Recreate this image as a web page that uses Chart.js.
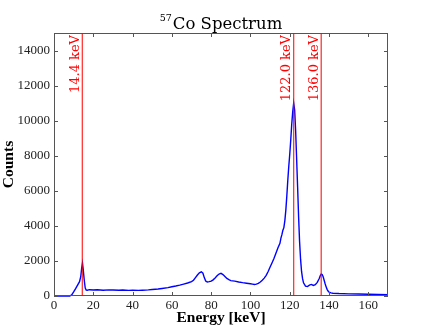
<!DOCTYPE html>
<html lang="en">
<head>
<meta charset="UTF-8">
<title>57Co Spectrum</title>
<script src="https://cdn.jsdelivr.net/npm/chart.js"></script>
<style>
  html, body { margin: 0; padding: 0; background: #fff; }
  #wrap { width: 432px; height: 328px; }
</style>
</head>
<body>
<div id="wrap"><canvas id="myChart" width="432" height="328"></canvas></div>
<script>
// spectrum (energy in keV, counts)
const energy = [0, 5, 8, 9, 10, 11, 12, 13, 13.6, 14.1, 14.5, 14.9, 15.4, 15.9, 16.4, 17, 18, 20, 22, 25, 28, 30, 33, 35, 38, 40, 43, 45, 48, 50, 53, 55, 58, 60, 62, 64, 66, 68, 70, 71, 72, 73, 74, 75, 75.8, 76.5, 77.2, 78, 79, 80, 81, 82, 83, 84, 85, 86, 87, 88, 89, 90, 92, 94, 96, 98, 100, 101, 102, 103, 104, 105, 106, 107, 108, 109, 110, 111, 112, 113, 114, 115, 115.5, 116, 116.5, 117, 117.5, 118, 118.5, 119, 119.5, 120, 120.5, 121, 121.5, 122, 122.5, 123, 123.5, 124, 124.5, 125, 125.5, 126, 126.5, 127, 128, 129, 130, 131, 132, 133, 134, 135, 135.5, 136, 136.5, 137, 137.5, 138, 138.5, 139, 139.5, 140, 141, 142, 145, 150, 155, 160, 165, 170];
const counts = [0, 0, 0, 60, 230, 420, 620, 820, 1100, 1600, 1880, 1500, 900, 450, 340, 330, 360, 340, 360, 330, 350, 340, 330, 340, 320, 330, 320, 330, 350, 370, 400, 430, 480, 530, 570, 620, 680, 740, 820, 900, 1050, 1200, 1320, 1380, 1300, 1050, 850, 800, 820, 850, 920, 1030, 1150, 1250, 1290, 1220, 1110, 1000, 930, 880, 850, 800, 760, 730, 700, 680, 660, 680, 720, 800, 900, 1020, 1180, 1400, 1650, 1900, 2150, 2450, 2750, 3000, 3300, 3500, 3750, 3900, 4300, 4900, 5700, 6600, 7400, 8100, 8900, 9800, 10500, 11000, 10600, 9400, 7800, 6200, 4500, 3100, 2100, 1400, 1000, 750, 560, 540, 620, 660, 600, 640, 780, 1000, 1150, 1250, 1230, 1100, 900, 700, 520, 380, 280, 220, 180, 160, 140, 120, 110, 100, 90, 80];

// marked lines
const lineEnergies = [14.4, 122.0, 136.0];
const lineLabels = ['14.4 keV', '122.0 keV', '136.0 keV'];

const xTicks = [0, 20, 40, 60, 80, 100, 120, 140, 160];
const yTicks = [0, 2000, 4000, 6000, 8000, 10000, 12000, 14000];

const serif = "'Liberation Serif', 'DejaVu Serif', serif";
const wide = "'DejaVu Serif', serif";

// frame, inward ticks, title and red marker lines
const extras = {
  id: 'extras',
  afterDatasetsDraw(chart) {
    const ctx = chart.ctx;
    const a = chart.chartArea;
    const xs = chart.scales.x, ys = chart.scales.y;
    ctx.save();

    // frame
    ctx.strokeStyle = '#555';
    ctx.lineWidth = 1;
    ctx.strokeRect(a.left + 0.5, a.top + 0.5, a.right - a.left - 1, a.bottom - a.top - 1);

    // inward ticks on all sides
    ctx.beginPath();
    xTicks.forEach(v => {
      const px = Math.round(xs.getPixelForValue(v)) + 0.5;
      ctx.moveTo(px, a.bottom); ctx.lineTo(px, a.bottom - 4);
      ctx.moveTo(px, a.top); ctx.lineTo(px, a.top + 4);
    });
    yTicks.forEach(v => {
      const py = Math.round(ys.getPixelForValue(v)) + 0.5;
      ctx.moveTo(a.left, py); ctx.lineTo(a.left + 4, py);
      ctx.moveTo(a.right, py); ctx.lineTo(a.right - 4, py);
    });
    ctx.stroke();

    // red lines + rotated labels
    ctx.strokeStyle = 'rgba(255,0,0,0.85)';
    ctx.fillStyle = '#ff0000';
    ctx.lineWidth = 1.2;
    ctx.font = '13px ' + wide;
    lineEnergies.forEach((e, i) => {
      const px = xs.getPixelForValue(e);
      ctx.beginPath();
      ctx.moveTo(px, a.top);
      ctx.lineTo(px, a.bottom);
      ctx.stroke();
      ctx.save();
      ctx.translate(px - 0.5, a.top + 2);
      ctx.rotate(-Math.PI / 2);
      ctx.textAlign = 'right';
      ctx.textBaseline = 'bottom';
      ctx.fillText(lineLabels[i], 0, 0);
      ctx.restore();
    });

    // title with superscript
    ctx.fillStyle = '#000';
    ctx.textBaseline = 'alphabetic';
    ctx.textAlign = 'left';
    const main = 'Co Spectrum', sup = '57';
    ctx.font = '16.5px ' + wide;
    const wMain = ctx.measureText(main).width;
    ctx.font = '9.5px ' + wide;
    const wSup = ctx.measureText(sup).width + 1;
    const cx = (a.left + a.right) / 2;
    const x0 = cx - (wMain + wSup) / 2;
    ctx.fillText(sup, x0, 21);
    ctx.font = '16.5px ' + wide;
    ctx.fillText(main, x0 + wSup, 29);
    ctx.restore();
  }
};

const ctx = document.getElementById('myChart').getContext('2d');
new Chart(ctx, {
  type: 'line',
  data: {
    datasets: [{
      data: energy.map((e, i) => ({ x: e, y: counts[i] })),
      borderColor: '#0000ff',
      borderWidth: 1.4,
      pointRadius: 0,
      fill: false,
      tension: 0,
      clip: 3
    }]
  },
  options: {
    responsive: false,
    animation: false,
    layout: { padding: { top: 33, right: 44, bottom: 0, left: 0 } },
    plugins: { legend: { display: false }, tooltip: { enabled: false } },
    scales: {
      x: {
        type: 'linear',
        min: 0, max: 170,
        afterFit(s) { s.height = 32; },
        afterBuildTicks(s) { s.ticks = xTicks.map(v => ({ value: v })); },
        grid: { display: false, drawTicks: false },
        border: { display: false },
        ticks: { color: '#222', padding: 2, maxRotation: 0, font: { family: serif, size: 13 },
                 callback: v => String(v) },
        title: { display: true, text: 'Energy [keV]', color: '#000', padding: { top: 0, bottom: 1 },
                 font: { family: serif, size: 15.5, weight: 'bold' } }
      },
      y: {
        min: 0, max: 15000,
        afterFit(s) { s.width = 54; },
        afterBuildTicks(s) { s.ticks = yTicks.map(v => ({ value: v })); },
        grid: { display: false, drawTicks: false },
        border: { display: false },
        ticks: { color: '#222', padding: 4, font: { family: serif, size: 13 },
                 callback: v => String(v) },
        title: { display: true, text: 'Counts', color: '#000', padding: { top: 0, bottom: 0 },
                 font: { family: serif, size: 15.5, weight: 'bold' } }
      }
    }
  },
  plugins: [extras]
});
</script>
</body>
</html>
